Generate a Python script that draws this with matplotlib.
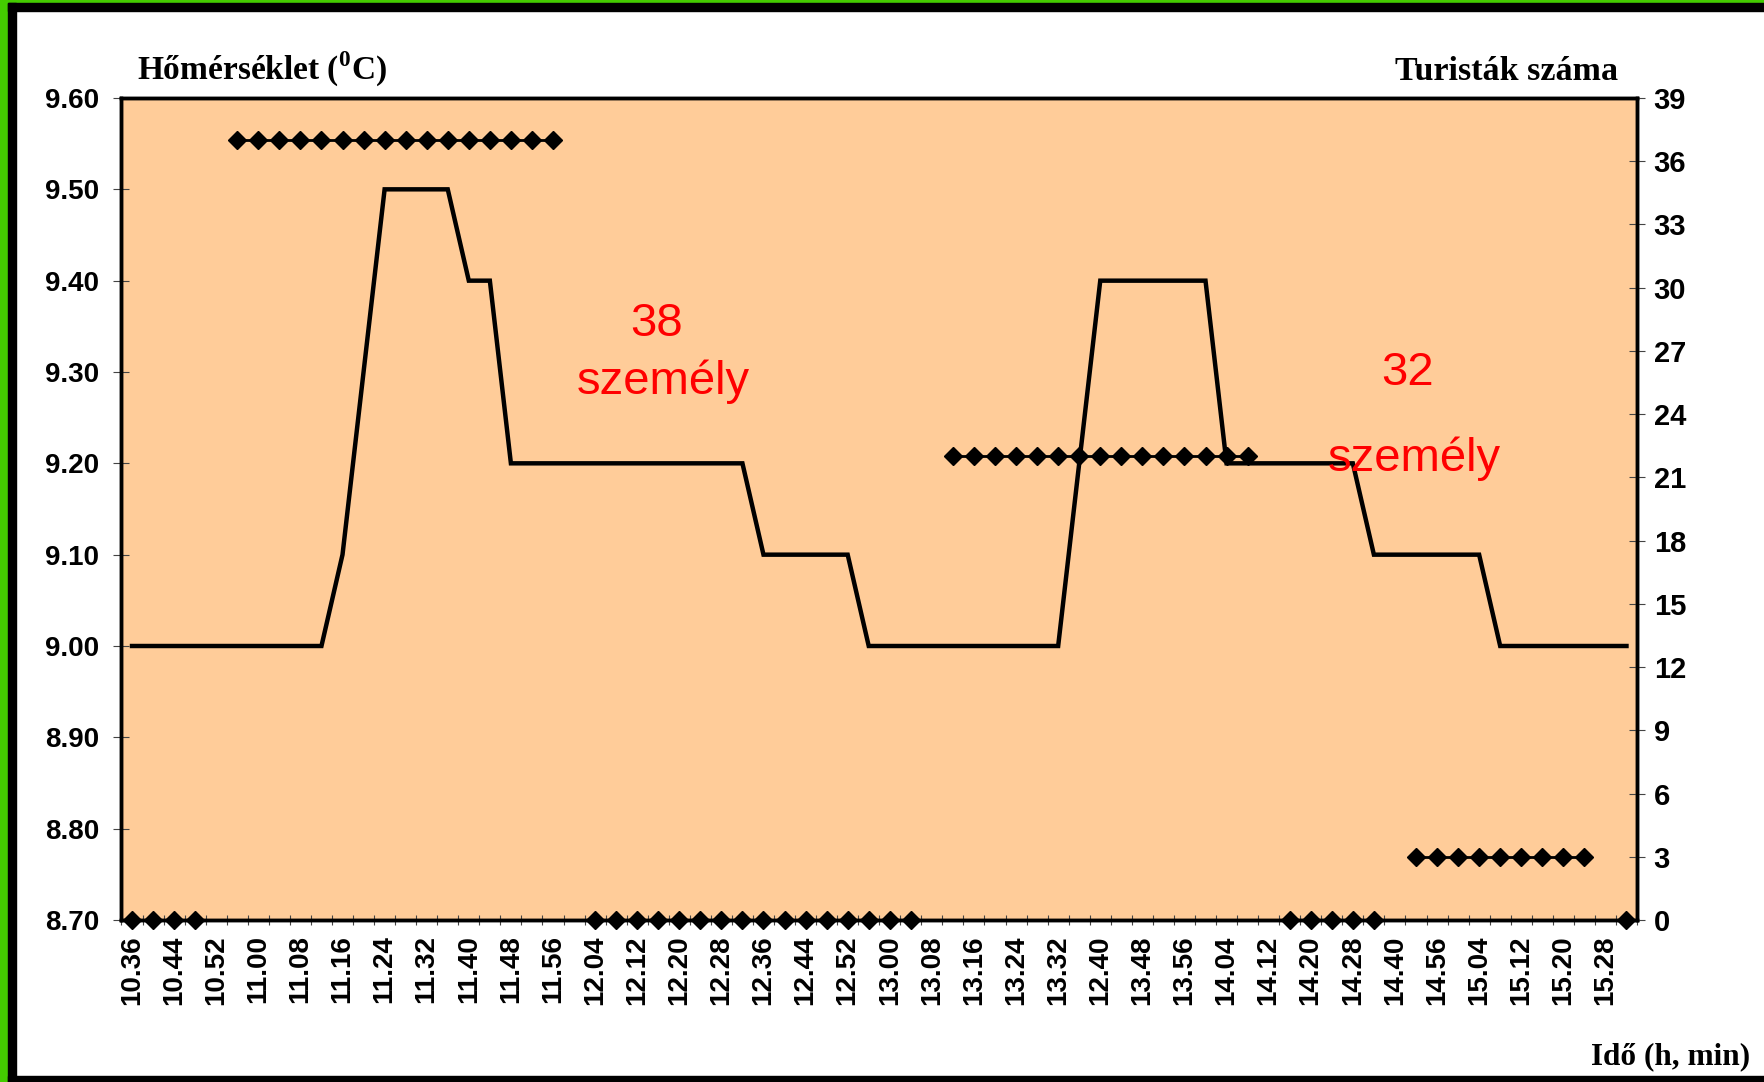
import numpy as np
import matplotlib.pyplot as plt
from matplotlib.patches import Rectangle

##############################
# データ
##############################
time_labels = ['10.36', '10.44', '10.52', '11.00', '11.08', '11.16', '11.24', '11.32',
               '11.40', '11.48', '11.56', '12.04', '12.12', '12.20', '12.28', '12.36',
               '12.44', '12.52', '13.00', '13.08', '13.16', '13.24', '13.32', '12.40',
               '13.48', '13.56', '14.04', '14.12', '14.20', '14.28', '14.40', '14.56',
               '15.04', '15.12', '15.20', '15.28']

# Hőmérséklet (°C), 72 mérési pont
temperature = [9.0, 9.0, 9.0, 9.0, 9.0, 9.0, 9.0, 9.0, 9.0, 9.0,
               9.1, 9.3, 9.5, 9.5, 9.5, 9.5, 9.4, 9.4,
               9.2, 9.2, 9.2, 9.2, 9.2, 9.2, 9.2, 9.2, 9.2, 9.2, 9.2, 9.2,
               9.1, 9.1, 9.1, 9.1, 9.1,
               9.0, 9.0, 9.0, 9.0, 9.0, 9.0, 9.0, 9.0, 9.0, 9.0,
               9.2, 9.4, 9.4, 9.4, 9.4, 9.4, 9.4,
               9.2, 9.2, 9.2, 9.2, 9.2, 9.2, 9.2,
               9.1, 9.1, 9.1, 9.1, 9.1, 9.1,
               9.0, 9.0, 9.0, 9.0, 9.0, 9.0, 9.0]

# Turisták száma (None = nincs adat)
tourists = [0, 0, 0, 0, None,
            37, 37, 37, 37, 37, 37, 37, 37, 37, 37, 37, 37, 37, 37, 37, 37, None,
            0, 0, 0, 0, 0, 0, 0, 0, 0, 0, 0, 0, 0, 0, 0, 0, None,
            22, 22, 22, 22, 22, 22, 22, 22, 22, 22, 22, 22, 22, 22, 22, None,
            0, 0, 0, 0, 0, None,
            3, 3, 3, 3, 3, 3, 3, 3, 3, None,
            0]

# 注記テキスト (x位置, 右軸の値)
note_texts = ['38', 'személy', '32', 'személy']
note_x = [24.9, 25.25, 60.6, 60.9]
note_y = [27.7, 24.95, 25.4, 21.3]

##############################
# 描画
##############################
sans = 'Liberation Sans'
serif = 'Liberation Serif'
plt.rcParams['mathtext.fontset'] = 'custom'
plt.rcParams['mathtext.rm'] = 'Liberation Serif:bold'
plt.rcParams['mathtext.bf'] = 'Liberation Serif:bold'

fig = plt.figure(figsize=(17.64, 10.82), dpi=100)
W, H = 1764, 1082

# 外枠 (緑 + 黒)
fig.patches.append(Rectangle((0, 0), 8 / W, 1, transform=fig.transFigure, color='#44CC00', zorder=0))
fig.patches.append(Rectangle((0, 1 - 3 / H), 1, 3 / H, transform=fig.transFigure, color='#44CC00', zorder=0))
fig.patches.append(Rectangle((8 / W, 0), 8 / W, 1 - 3 / H, transform=fig.transFigure, color='black', zorder=0))
fig.patches.append(Rectangle((8 / W, 1 - 11 / H), 1, 8 / H, transform=fig.transFigure, color='black', zorder=0))
fig.patches.append(Rectangle((8 / W, 0), 1, 6 / H, transform=fig.transFigure, color='black', zorder=0))

ax = fig.add_axes([121.5 / W, 1 - 920 / H, (1637 - 121.5) / W, (920 - 98) / H])
ax.set_facecolor('#FFCC99')

x = np.arange(len(temperature))
ax.plot(x, temperature, color='black', lw=3.2, solid_joinstyle='miter', zorder=3)

ax.set_xlim(-0.5, len(temperature) - 0.5)
ax.set_ylim(8.70, 9.60)
ax.set_yticks(np.arange(8.70, 9.601, 0.10))
ax.set_yticklabels(['%.2f' % v for v in np.arange(8.70, 9.601, 0.10)])

ax.set_xticks(np.arange(0, len(temperature), 2))
ax.set_xticklabels(time_labels, rotation=90)
ax.set_xticks(np.arange(-0.5, len(temperature), 1), minor=True)
ax.tick_params(axis='x', which='major', length=0, pad=11)
ax.tick_params(axis='x', which='minor', direction='inout', length=7, width=0.8, color='#444444')
ax.tick_params(axis='y', direction='inout', length=12, width=0.8, color='#444444', pad=10)

for lab in ax.get_xticklabels() + ax.get_yticklabels():
    lab.set_fontfamily(sans)
    lab.set_fontweight('bold')
    lab.set_fontsize(20)
for lab in ax.get_xticklabels():
    lab.set_verticalalignment('top')

for sp in ax.spines.values():
    sp.set_linewidth(2.5)

# 右軸: 観光客数
ax2 = ax.twinx()
tour = np.array([np.nan if v is None else v for v in tourists], dtype=float)
ax2.plot(x, tour, color='black', lw=2, marker='D', markersize=9, clip_on=False, zorder=4)
ax2.set_ylim(0, 39)
ax2.set_yticks(np.arange(0, 40, 3))
ax2.tick_params(axis='y', direction='inout', length=12, width=0.8, color='#444444', pad=6)
for lab in ax2.get_yticklabels():
    lab.set_fontfamily(sans)
    lab.set_fontweight('bold')
    lab.set_fontsize(21)
for sp in ax2.spines.values():
    sp.set_linewidth(2.5)

for t, tx, ty in zip(note_texts, note_x, note_y):
    ax2.text(tx, ty, t, color='#FF0000', fontsize=34, family=sans,
             ha='center', va='baseline', zorder=5)

# 軸タイトル
fig.text(137 / W, 1 - 80 / H, r'Hőmérséklet ($^{\mathbf{0}}$C)', family=serif,
         fontweight='bold', fontsize=24, ha='left', va='baseline')
fig.text(1618 / W, 1 - 80 / H, 'Turisták száma', family=serif,
         fontweight='bold', fontsize=24.5, ha='right', va='baseline')
fig.text(1750 / W, 1 - 1064 / H, 'Idő (h, min)', family=serif,
         fontweight='bold', fontsize=22.5, ha='right', va='baseline')

fig.savefig('out.png', dpi=100, facecolor='white')
plt.close()
